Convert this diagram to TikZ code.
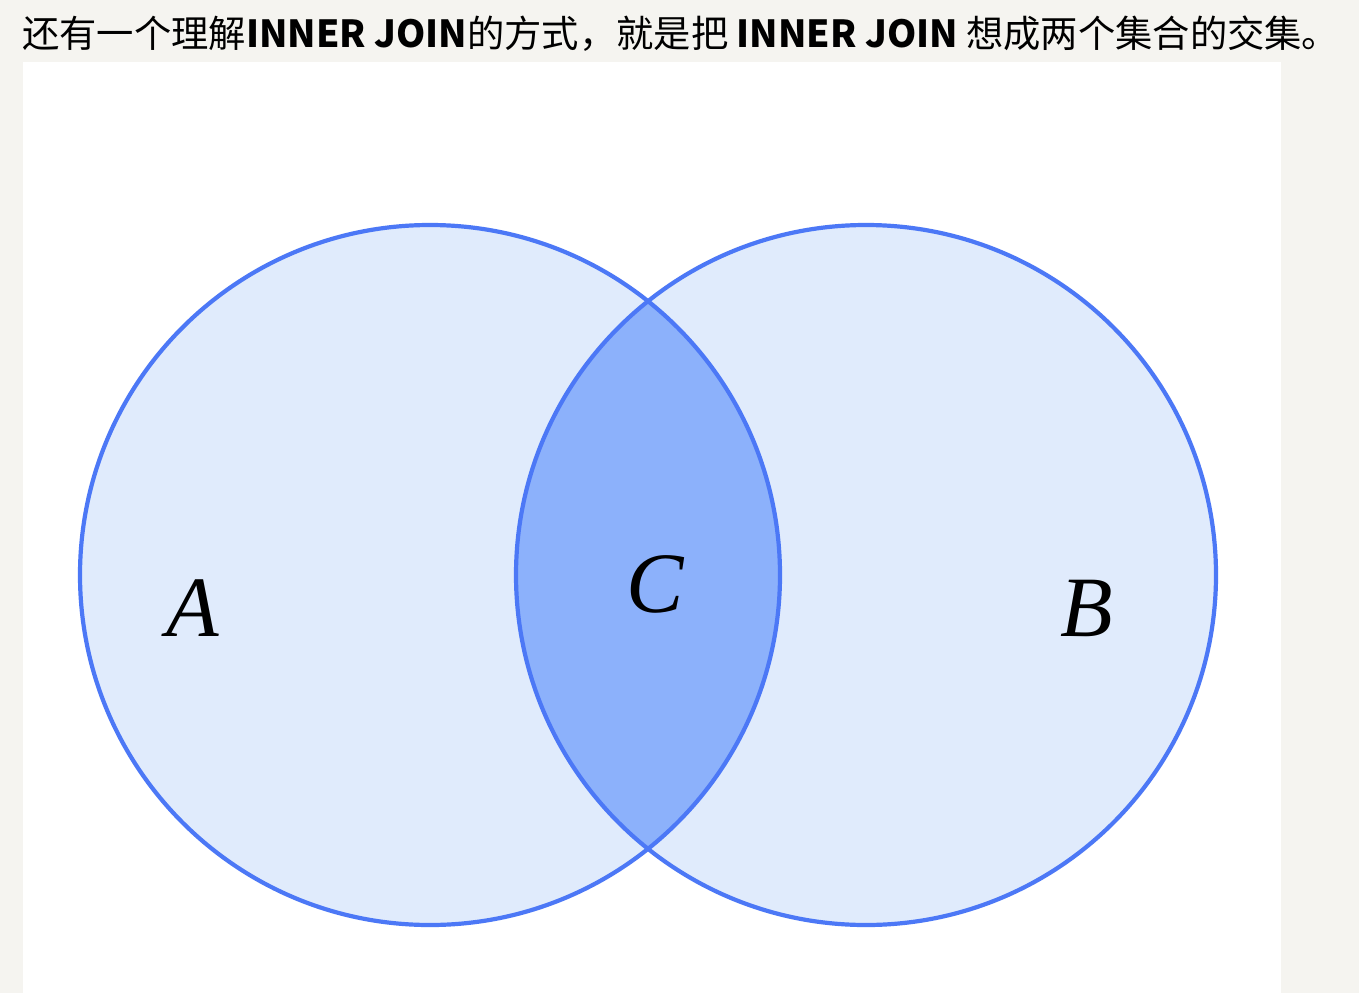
\documentclass[tikz,border=0pt]{standalone}
\usepackage{fontspec}
\setmainfont{Liberation Serif}
\newfontfamily\cjk{Noto Sans CJK SC}
\usepackage{xcolor}
\usepackage{tikz}
\usetikzlibrary{positioning}

\definecolor{pagebg}{HTML}{F5F4F0}
\definecolor{setline}{HTML}{4C78F6}
\definecolor{setfill}{HTML}{E0EBFC}
\definecolor{joinfill}{HTML}{8CB1FB}

\begin{document}
\begin{tikzpicture}[x=1pt, y=-1pt, line cap=round, line join=round,
    setcircle/.style={circle, draw=setline, line width=4.2pt, minimum size=700pt, inner sep=0pt},
    setlabel/.style={font=\fontsize{86}{86}\selectfont\itshape}]
    % Page and panel
    \fill[pagebg] (0,0) rectangle (1359,993);
    \fill[white] (23,62) rectangle (1281,993);
    \useasboundingbox (0,0) rectangle (1359,993);

    % Heading
    \node[anchor=west, inner sep=0pt, font=\cjk\fontsize{37.3}{37.3}\selectfont] (title) at (22,34)
        {还有一个理解\textbf{INNER JOIN}的方式，就是把 \textbf{INNER JOIN} 想成两个集合的交集。};

    % Sets
    \coordinate (cA) at (430,575);
    \coordinate (cB) at (866,575);
    \fill[setfill] (cA) circle (350pt);
    \fill[setfill] (cB) circle (350pt);
    \begin{scope}
        \clip (cA) circle (350pt);
        \fill[joinfill] (cB) circle (350pt);
    \end{scope}
    \node[setcircle] (setA) at (cA) {};
    \node[setcircle] (setB) at (cB) {};

    % Labels
    \node[setlabel] (labA) at (193,608) {A};
    \node[setlabel] (labC) at (655,584) {C};
    \node[setlabel] (labB) at (1087,608) {B};

\end{tikzpicture}
\end{document}
